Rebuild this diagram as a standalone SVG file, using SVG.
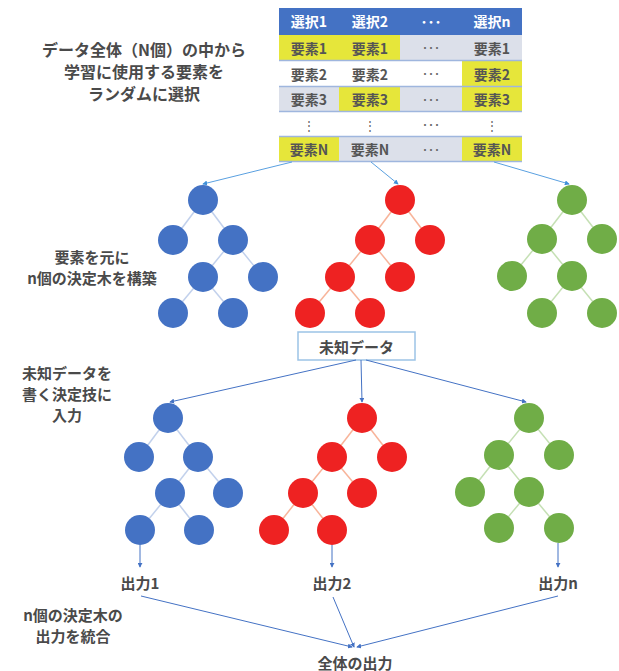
<svg xmlns="http://www.w3.org/2000/svg" width="619" height="671" viewBox="0 0 619 671">
<defs>
<marker id="ah" viewBox="0 0 6 6" refX="5" refY="3" markerWidth="5" markerHeight="5" orient="auto"><path d="M0,0 L6,3 L0,6 z" fill="#4472c4"/></marker>
<marker id="ah2" viewBox="0 0 6 6" refX="5" refY="3" markerWidth="5" markerHeight="5" orient="auto"><path d="M0,0 L6,3 L0,6 z" fill="#3f8fd8"/></marker>
<style>
text{font-family:"Noto Sans CJK JP","Liberation Sans",sans-serif;}
.lbl{font-size:15px;font-weight:700;fill:#4a4a4a;text-anchor:middle;dominant-baseline:central;}
.big{font-size:16px;}
.hd{font-size:14px;font-weight:700;fill:#ffffff;text-anchor:middle;dominant-baseline:central;}
.cell{font-size:14px;font-weight:700;fill:#555;text-anchor:middle;dominant-baseline:central;}
.dots{font-size:12px;fill:#666;text-anchor:middle;dominant-baseline:central;}
.conn{stroke:#4472c4;stroke-width:1;fill:none;marker-end:url(#ah);}
.conn2{stroke:#5aa0e0;stroke-width:1;fill:none;marker-end:url(#ah2);}
.b{fill:#4472c4;}
.r{fill:#ee2222;}
.g{fill:#70ad47;}
.eb{stroke:#c2d1ec;stroke-width:1.5;}
.er{stroke:#f8b49a;stroke-width:1.5;}
.eg{stroke:#c5e0b4;stroke-width:1.5;}
.yl{fill:#e6e63a;}
</style>
</defs>
<rect width="619" height="671" fill="#ffffff"/>

<g id="table">
<rect x="279" y="8" width="243" height="27" fill="#4472c4"/>
<rect x="279" y="35" width="243" height="25" fill="#dce0ea"/>
<rect x="279" y="61" width="243" height="25" fill="#ffffff"/>
<rect x="279" y="87" width="243" height="24" fill="#dce0ea"/>
<rect x="279" y="112" width="243" height="24" fill="#ffffff"/>
<rect x="279" y="137" width="243" height="24" fill="#dce0ea"/>
<rect class="yl" x="279" y="35" width="60" height="25"/>
<rect class="yl" x="339" y="35" width="61" height="25"/>
<rect class="yl" x="462" y="61" width="60" height="25"/>
<rect class="yl" x="339" y="87" width="61" height="24"/>
<rect class="yl" x="462" y="87" width="60" height="24"/>
<rect class="yl" x="279" y="137" width="60" height="24"/>
<rect class="yl" x="462" y="137" width="60" height="24"/>
<g stroke="#9fb6de" stroke-width="1.5">
<line x1="279" y1="60.5" x2="522" y2="60.5"/>
<line x1="279" y1="86.5" x2="522" y2="86.5"/>
<line x1="279" y1="111.5" x2="522" y2="111.5"/>
<line x1="279" y1="136.5" x2="522" y2="136.5"/>
<line x1="279" y1="161.5" x2="522" y2="161.5"/>
</g>
<text class="hd" x="309" y="21">選択1</text>
<text class="hd" x="370" y="21">選択2</text>
<text class="hd" x="431" y="21">･･･</text>
<text class="hd" x="492" y="21">選択n</text>
<text class="cell" x="309" y="47.5">要素1</text>
<text class="cell" x="370" y="47.5">要素1</text>
<text class="dots" x="431" y="47.5">･･･</text>
<text class="cell" x="492" y="47.5">要素1</text>
<text class="cell" x="309" y="73.5">要素2</text>
<text class="cell" x="370" y="73.5">要素2</text>
<text class="dots" x="431" y="73.5">･･･</text>
<text class="cell" x="492" y="73.5">要素2</text>
<text class="cell" x="309" y="99">要素3</text>
<text class="cell" x="370" y="99">要素3</text>
<text class="dots" x="431" y="99">･･･</text>
<text class="cell" x="492" y="99">要素3</text>
<text class="dots" x="309" y="124">⋮</text>
<text class="dots" x="370" y="124">⋮</text>
<text class="dots" x="431" y="124">･･･</text>
<text class="dots" x="492" y="124">⋮</text>
<text class="cell" x="309" y="149">要素N</text>
<text class="cell" x="370" y="149">要素N</text>
<text class="dots" x="431" y="149">･･･</text>
<text class="cell" x="492" y="149">要素N</text>
</g>

<g id="labels">
<text class="lbl big" x="144" y="49">データ全体（N個）の中から</text>
<text class="lbl big" x="144" y="71">学習に使用する要素を</text>
<text class="lbl big" x="144" y="93">ランダムに選択</text>
<text class="lbl" x="92" y="256">要素を元に</text>
<text class="lbl" x="92" y="277">n個の決定木を構築</text>
<text class="lbl" x="67" y="372">未知データを</text>
<text class="lbl" x="67" y="393">書く決定技に</text>
<text class="lbl" x="67" y="414">入力</text>
<text class="lbl" x="73" y="614">n個の決定木の</text>
<text class="lbl" x="73" y="635">出力を統合</text>
</g>

<g id="tree-top-blue">
<g class="eb">
<line x1="203" y1="200" x2="173" y2="240"/><line x1="203" y1="200" x2="233" y2="240"/>
<line x1="233" y1="240" x2="203" y2="277"/><line x1="233" y1="240" x2="263" y2="277"/>
<line x1="203" y1="277" x2="173" y2="313"/><line x1="203" y1="277" x2="233" y2="313"/>
</g>
<g class="b">
<circle cx="203" cy="200" r="15"/><circle cx="173" cy="240" r="15"/><circle cx="233" cy="240" r="15"/>
<circle cx="203" cy="277" r="15"/><circle cx="263" cy="277" r="15"/><circle cx="173" cy="313" r="15"/><circle cx="233" cy="313" r="15"/>
</g>
</g>

<g id="tree-top-red">
<g class="er">
<line x1="400" y1="200" x2="370" y2="240"/><line x1="400" y1="200" x2="430" y2="240"/>
<line x1="370" y1="240" x2="340" y2="277"/><line x1="370" y1="240" x2="400" y2="277"/>
<line x1="340" y1="277" x2="310" y2="313"/><line x1="340" y1="277" x2="370" y2="313"/>
</g>
<g class="r">
<circle cx="400" cy="200" r="15"/><circle cx="370" cy="240" r="15"/><circle cx="430" cy="240" r="15"/>
<circle cx="340" cy="277" r="15"/><circle cx="400" cy="277" r="15"/><circle cx="310" cy="313" r="15"/><circle cx="370" cy="313" r="15"/>
</g>
</g>

<g id="tree-top-green">
<g class="eg">
<line x1="572" y1="200" x2="542" y2="239"/><line x1="572" y1="200" x2="602" y2="239"/>
<line x1="542" y1="239" x2="512" y2="276"/><line x1="542" y1="239" x2="572" y2="276"/>
<line x1="572" y1="276" x2="542" y2="313"/><line x1="572" y1="276" x2="602" y2="313"/>
</g>
<g class="g">
<circle cx="572" cy="200" r="15"/><circle cx="542" cy="239" r="15"/><circle cx="602" cy="239" r="15"/>
<circle cx="512" cy="276" r="15"/><circle cx="572" cy="276" r="15"/><circle cx="542" cy="313" r="15"/><circle cx="602" cy="313" r="15"/>
</g>
</g>

<g id="unknown-data">
<rect x="298" y="332" width="117" height="28" fill="#ffffff" stroke="#9cc3e6" stroke-width="1.5"/>
<text class="lbl" x="356.5" y="346">未知データ</text>
</g>

<g id="tree-bottom-blue">
<g class="eb">
<line x1="168" y1="418" x2="139" y2="457"/><line x1="168" y1="418" x2="198" y2="457"/>
<line x1="198" y1="457" x2="170" y2="493"/><line x1="198" y1="457" x2="228" y2="493"/>
<line x1="170" y1="493" x2="140" y2="530"/><line x1="170" y1="493" x2="199" y2="530"/>
</g>
<g class="b">
<circle cx="168" cy="418" r="15"/><circle cx="139" cy="457" r="15"/><circle cx="198" cy="457" r="15"/>
<circle cx="170" cy="493" r="15"/><circle cx="228" cy="493" r="15"/><circle cx="140" cy="530" r="15"/><circle cx="199" cy="530" r="15"/>
</g>
</g>

<g id="tree-bottom-red">
<g class="er">
<line x1="362" y1="418" x2="332" y2="457"/><line x1="362" y1="418" x2="392" y2="457"/>
<line x1="332" y1="457" x2="303" y2="493"/><line x1="332" y1="457" x2="362" y2="493"/>
<line x1="303" y1="493" x2="274" y2="530"/><line x1="303" y1="493" x2="332" y2="530"/>
</g>
<g class="r">
<circle cx="362" cy="418" r="15"/><circle cx="332" cy="457" r="15"/><circle cx="392" cy="457" r="15"/>
<circle cx="303" cy="493" r="15"/><circle cx="362" cy="493" r="15"/><circle cx="274" cy="530" r="15"/><circle cx="332" cy="530" r="15"/>
</g>
</g>

<g id="tree-bottom-green">
<g class="eg">
<line x1="529" y1="418" x2="499" y2="455"/><line x1="529" y1="418" x2="559" y2="455"/>
<line x1="499" y1="455" x2="470" y2="492"/><line x1="499" y1="455" x2="529" y2="492"/>
<line x1="529" y1="492" x2="499" y2="528"/><line x1="529" y1="492" x2="559" y2="528"/>
</g>
<g class="g">
<circle cx="529" cy="418" r="15"/><circle cx="499" cy="455" r="15"/><circle cx="559" cy="455" r="15"/>
<circle cx="470" cy="492" r="15"/><circle cx="529" cy="492" r="15"/><circle cx="499" cy="528" r="15"/><circle cx="559" cy="528" r="15"/>
</g>
</g>

<g id="outputs">
<text class="lbl" x="140" y="582">出力1</text>
<text class="lbl" x="332" y="582">出力2</text>
<text class="lbl" x="558" y="582">出力n</text>
<text class="lbl" x="355" y="662">全体の出力</text>
</g>

<g id="connectors">
<line class="conn2" x1="292" y1="162" x2="203" y2="184"/>
<line class="conn2" x1="371" y1="162" x2="398" y2="184"/>
<line class="conn2" x1="494" y1="162" x2="569" y2="184"/>
<line class="conn" x1="356" y1="360" x2="170" y2="402"/>
<line class="conn" x1="361" y1="360" x2="362" y2="402"/>
<line class="conn" x1="366" y1="360" x2="526" y2="402"/>
<line class="conn" x1="140" y1="545" x2="140" y2="567"/>
<line class="conn" x1="332" y1="545" x2="332" y2="567"/>
<line class="conn" x1="558" y1="543" x2="558" y2="567"/>
<line class="conn" x1="141" y1="596" x2="352" y2="647"/>
<line class="conn" x1="333" y1="597" x2="354" y2="647"/>
<line class="conn" x1="558" y1="596" x2="357" y2="647"/>
</g>
</svg>
